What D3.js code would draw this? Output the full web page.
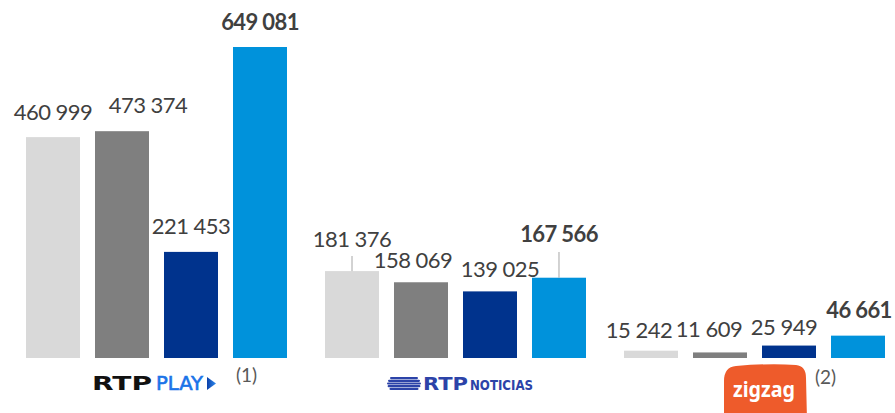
<!DOCTYPE html>
<html>
<head>
<meta charset="utf-8">
<script src="https://cdn.jsdelivr.net/npm/d3@7"></script>
<style>
  html, body { margin: 0; padding: 0; background: #ffffff; }
  svg { display: block; }
</style>
</head>
<body>
<svg id="chart" width="895" height="413"></svg>
<script>
// ---- data ----
const groups = ["RTP Play", "RTP Notícias", "Zigzag"];
const series = ["s1", "s2", "s3", "s4"];
const valuesS1 = [460999, 181376, 15242];
const valuesS2 = [473374, 158069, 11609];
const valuesS3 = [221453, 139025, 25949];
const valuesS4 = [649081, 167566, 46661];
const seriesValues = [valuesS1, valuesS2, valuesS3, valuesS4];

// ---- style / layout ----
const colors = ["#d9d9d9", "#7f7f7f", "#00338d", "#0092db"];
const boldSeries = [false, false, false, true];
// label nudges [dx, dy from bar top] per group, per series
const labelNudge = [
  [[0, -17], [26, -18], [0, -18], [0, -17]],
  [[0, -24], [-8, -14], [10, -14], [0, -36]],
  [[-12, -13], [-11, -15], [-5, -11], [1, -18]]
];
const leaders = [[1, 0, 256], [1, 3, 252]]; // group, series, top y of leader line

const svg = d3.select("#chart");
const baseY = 358;

const x0 = d3.scaleBand().domain(groups).range([7, 904]).paddingInner(0).paddingOuter(0);
const x1 = d3.scaleBand().domain(series).range([0, x0.bandwidth()])
  .paddingInner(15 / 69).paddingOuter(0.2754);
const y = d3.scaleLinear().domain([0, 649081]).range([baseY, 47]);

const fmt = v => d3.format(",")(v).replace(/,/g, " ");

const rows = [];
groups.forEach((g, gi) => {
  series.forEach((s, si) => {
    rows.push({ g, gi, s, si, v: seriesValues[si][gi] });
  });
});

const gBars = svg.append("g");
gBars.selectAll("rect").data(rows).join("rect")
  .attr("x", d => x0(d.g) + x1(d.s))
  .attr("y", d => y(d.v))
  .attr("width", x1.bandwidth())
  .attr("height", d => baseY - y(d.v))
  .attr("fill", d => colors[d.si]);

// leader lines
svg.append("g").selectAll("line").data(leaders).join("line")
  .attr("x1", d => x0(groups[d[0]]) + x1(series[d[1]]) + x1.bandwidth() / 2)
  .attr("x2", d => x0(groups[d[0]]) + x1(series[d[1]]) + x1.bandwidth() / 2)
  .attr("y1", d => d[2])
  .attr("y2", d => y(seriesValues[d[1]][d[0]]))
  .attr("stroke", "#a6a6a6")
  .attr("stroke-width", 1);

// value labels
svg.append("g").selectAll("text").data(rows).join("text")
  .attr("x", d => x0(d.g) + x1(d.s) + x1.bandwidth() / 2 + labelNudge[d.gi][d.si][0])
  .attr("y", d => y(d.v) + labelNudge[d.gi][d.si][1])
  .attr("text-anchor", "middle")
  .attr("font-family", "Lato, 'Open Sans', sans-serif")
  .attr("font-size", 22)
  .attr("letter-spacing", d => boldSeries[d.si] ? -0.6 : -0.5)
  .attr("font-weight", d => boldSeries[d.si] ? 700 : 400)
  .attr("fill", "#404040")
  .text(d => fmt(d.v));

// ---- logos ----
// RTP PLAY
const lp = svg.append("g");
lp.append("text").attr("x", 92).attr("y", 390)
  .attr("font-family", "'DejaVu Sans', sans-serif").attr("font-weight", 700)
  .attr("font-size", 19.5).attr("textLength", 60).attr("lengthAdjust", "spacingAndGlyphs")
  .attr("fill", "#111111").text("RTP");
lp.append("text").attr("x", 156).attr("y", 390)
  .attr("font-family", "'DejaVu Sans', sans-serif").attr("font-weight", 400)
  .attr("font-size", 19.5).attr("textLength", 47).attr("lengthAdjust", "spacingAndGlyphs")
  .attr("fill", "#1a73e8").attr("stroke", "#1a73e8").attr("stroke-width", 0.6).text("PLAY");
const defs = svg.append("defs");
const grad = defs.append("linearGradient").attr("id", "playGrad")
  .attr("x1", "0").attr("x2", "1").attr("y1", "0").attr("y2", "0");
grad.append("stop").attr("offset", "0").attr("stop-color", "#0b3fa8");
grad.append("stop").attr("offset", "1").attr("stop-color", "#2f8cf0");
lp.append("path").attr("d", "M207,377 L216,383.5 L207,390 Z").attr("fill", "url(#playGrad)");
svg.append("text").attr("x", 236).attr("y", 382)
  .attr("font-family", "Lato, sans-serif").attr("font-size", 19)
  .attr("fill", "#595959").text("(1)");

// RTP Noticias
const ln = svg.append("g");
const stripeColor = "#2c43a8";
const stripes = [[377, 3], [379.7, 1], [382.4, 0], [385.1, 0.6], [387.8, 2.5]];
stripes.forEach(([sy, inset]) => {
  ln.append("rect").attr("x", 387 + inset).attr("y", sy)
    .attr("width", 34 - 2 * inset).attr("height", 2.2)
    .attr("rx", 1.1).attr("fill", stripeColor);
});
ln.append("text").attr("x", 423).attr("y", 390)
  .attr("font-family", "'DejaVu Sans', sans-serif").attr("font-weight", 700)
  .attr("font-size", 17.5).attr("textLength", 45).attr("lengthAdjust", "spacingAndGlyphs")
  .attr("fill", stripeColor).text("RTP");
ln.append("text").attr("x", 470).attr("y", 390)
  .attr("font-family", "'DejaVu Sans', sans-serif").attr("font-weight", 700)
  .attr("font-size", 13.5).attr("textLength", 63).attr("lengthAdjust", "spacingAndGlyphs")
  .attr("fill", stripeColor).text("NOTICIAS");

// Zigzag
const lz = svg.append("g");
lz.append("path")
  .attr("d", "M736,366 Q770,363 796,365 Q806,366 806,378 L807,420 L724,420 L724,381 Q724,367 736,366 Z")
  .attr("fill", "#ee5b2b");
lz.append("text").attr("x", 733).attr("y", 397)
  .attr("font-family", "'Noto Sans', sans-serif").attr("font-weight", 700)
  .attr("font-size", 21).attr("textLength", 62).attr("lengthAdjust", "spacingAndGlyphs")
  .attr("fill", "#ffffff").text("zigzag");
svg.append("text").attr("x", 815).attr("y", 384)
  .attr("font-family", "Lato, sans-serif").attr("font-size", 19)
  .attr("fill", "#595959").text("(2)");
</script>
</body>
</html>
